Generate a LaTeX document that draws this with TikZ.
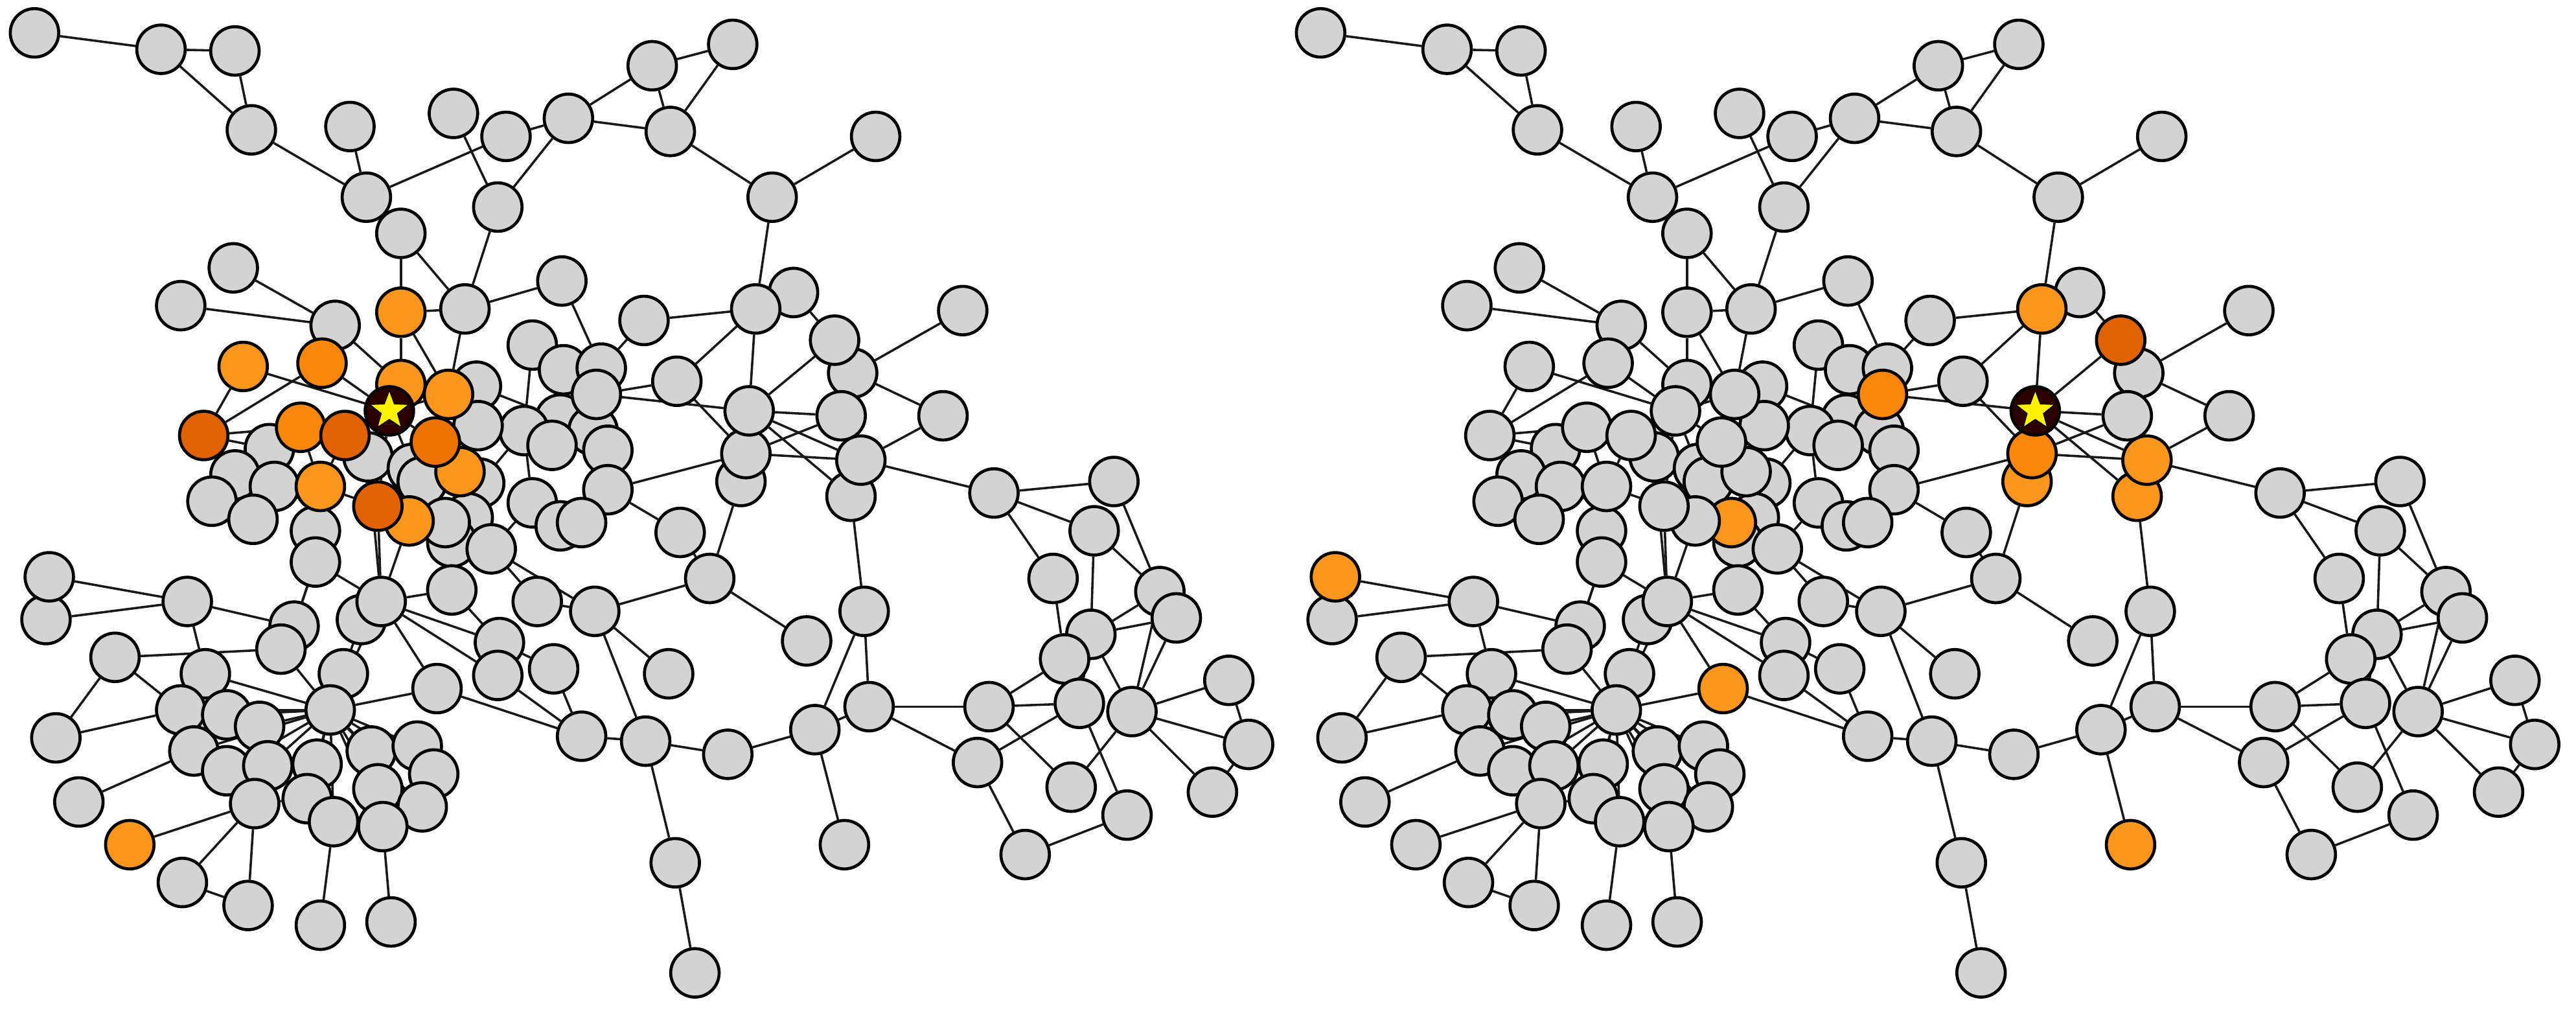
\documentclass[tikz,border=0pt]{standalone}
\usetikzlibrary{shapes.geometric}
\pgfdeclarelayer{bg}
\pgfsetlayers{bg,main}
\definecolor{ngray}{RGB}{211,211,211}
\definecolor{olight}{RGB}{250,150,28}
\definecolor{omed}{RGB}{250,135,10}
\definecolor{odark}{RGB}{225,98,0}
\definecolor{odarkb}{RGB}{238,114,0}
\definecolor{stn}{RGB}{45,0,0}
\definecolor{edgec}{RGB}{25,25,25}
\tikzset{
  nd/.style={circle, draw=black, line width=1.05pt, minimum size=0.59cm, inner sep=0pt},
  edge/.style={draw=edgec, line width=0.8pt},
  starmark/.style={star, star points=5, star point ratio=2.4, fill=yellow, draw=black, line width=0.3pt, minimum size=0.5cm, inner sep=0pt}
}
\newcommand\drawgraph{%
  % plain grey nodes
  \foreach \id/\x/\y in {a1/21/20, a2/98/30, a3/143/31, a4/153/79, a5/213/77, a6/276/69, a7/308/83, a8/346/72,
    a9/397/40, a10/446/27, a11/408/80, a12/533/83, a13/223/120, a14/303/126, a15/470/120,
    b1/244/142, b2/142/163, b3/110/186, b4/204/198, b6/283/188, b7/342/171, b8/392/195, b10/483/178,
    b11/586/189, b12/324/210, b13/343/225, b14/366/224, b15/412/232, b17/519/227, b18/574/253, b19/512/253,
    d1/290/235, d3/341/255, d4/361/262, d5/319/262, d6/291/259, d7/336/271, d17/370/274, d8/164/273,
    d9/224/278, d10/143/289, d28/167/296, d11/251/285, d12/257/293, d13/292/294, d14/324/306, d16/370/298,
    d27/341/320, d15/354/318, d18/129/305, d19/154/316, d20/192/323, d21/192/342, d24/285/315, d22/275/330,
    d23/299/334, e2/414/324, e3/432/352, e4/491/390, e5/362/372, e6/327/366, e7/275/359, e8/304/391,
    e9/303/411, e10/337/407, e11/407/410, e14/526/372,
    f1/605/300, f2/678/293, f3/666/323, f4/641/352, f5/706/360, f6/716/376, f7/664/386, f8/648/401,
    f9/748/414, f10/657/428, f11/689/433, f12/760/453, f13/738/482, f14/652/479, f15/686/496, f16/602/430,
    f17/595/464, f18/624/520, f19/529/430, f21/496/444, f22/443/459, f23/393/451, f24/354/448, f25/411/525,
    f26/423/592,
    g2/28/377, g3/114/366, g5/179/381, g6/171/395, g7/220/377, g8/232/366, g9/70/400, g10/125/410,
    g11/209/410, g13/34/449, g14/110/432, g15/138/435, g16/158/442, g17/201/432, g18/118/457, g19/138/469,
    g20/163/466, g21/193/465, g22/226/457, g23/254/454, g24/264/471, g25/230/480, g26/257/491, g29/187/486,
    g27/233/503, g28/203/500, g30/155/489, g31/48/488, g33/111/537, g34/151/551, g35/195/563, g36/238/561}
  {\node[nd, fill=ngray] (P\pn\id) at (\x,\y) {};}
  % nodes coloured in at least one panel (left colour / right colour)
  \foreach \id/\x/\y/\cl/\cr in {b9/460/188/ngray/olight, b16/508/207/ngray/odark, d2/363/240/ngray/omed,
    b21/518/302/ngray/olight, b20/524/280/ngray/olight, b24/451/293/ngray/olight, b23/454/276/ngray/omed,
    d25/271/318/ngray/olight, e12/266/419/ngray/olight, f20/514/514/ngray/olight, g1/30/351/ngray/olight,
    g32/79/514/olight/ngray, b5/244/190/olight/ngray, c1/148/223/olight/ngray, c2/196/221/omed/ngray,
    c6/124/265/odark/ngray, c7/183/260/omed/ngray, c8/210/265/odark/ngray, c10/280/287/olight/ngray,
    c9/265/269/odarkb/ngray, c11/195/296/olight/ngray, c13/249/317/olight/ngray, c12/230/308/odark/ngray,
    c3/244/234/olight/ngray, c5/273/240/olight/ngray, c4/237/250/stn/ngray, b22/456/250/ngray/stn}
  {\ifnum\pn=0 \def\cc{\cl}\else\def\cc{\cr}\fi
   \node[nd, fill=\cc] (P\pn\id) at (\x,\y) {};}
  % edges
  \begin{pgfonlayer}{bg}
  \foreach \u/\v in {a1/a2, a2/a3, a2/a4, a3/a4, a4/a13, a5/a13, a13/a7, a6/a14, a7/a8, a8/a9, a8/a14, a8/a11,
    a9/a11, a9/a10, a10/a11, a11/a15, a15/a12, a15/b9, a14/b6, a13/b1, b1/b5, b1/b6, b2/b4, b3/b4, b5/b6,
    b6/b7, b7/b14, b8/b14, b8/b9, b9/b15, b9/b22, b10/b16, b11/b17, b17/b18, b18/b20, b20/f1, b22/b16,
    b22/d2, b22/b19, b22/b20, b22/b21, b23/b20, b23/b19, b15/b23, b15/d2, b12/d5,
    c1/c4, c1/c6, c6/c2, c2/c4, b4/c3, b5/c3, b5/c5, b6/c5, c4/c5, c4/c8, c4/c9, c4/d9, c4/c12, c4/d11,
    c5/d1, d1/d3, c6/d8, c6/d10, c6/d19, c6/c7, c7/d8, c7/c8, c7/c11, c8/d9, c8/c11, c8/c12, c9/d11,
    c9/c10, c9/d6, c10/d12, c10/d13, c10/c13, c10/d24, c11/c12, c11/d20, c11/d19, c11/d28, c12/c13,
    c12/g8, c13/g8, d9/g8, d21/g8, d21/g5, d20/d21, d5/d14, d5/d13, d3/d7, d4/d17, d16/b23, d16/e2,
    d16/d17, d14/d15, d15/d27, d23/e6, d23/e5, d22/d24, d22/e7, d18/d10, d18/d19, d13/d24, d14/d23,
    d25/c13, d25/d24,
    e2/e3, e3/b24, e3/e4, e3/e5, e5/e11, e5/f23, e6/e5, e7/e8, e8/e10, g8/e7, g8/e8, g8/e9, g8/e12,
    g8/g17, g7/g17, g7/g8, e12/f24, e9/f24, e10/f24, f24/f23, f23/f22, f23/f25, f25/f26, f22/f21,
    f21/f19, f21/f20, f21/e14, e14/f19, e14/b21, f19/f16, f19/f17, f16/f10, f16/f8, f16/f14, f17/f10,
    f17/f18, f18/f15, f10/f15, f11/f14, f11/f9, f11/f12, f11/f13, f9/f12, f12/f13, f1/f2, f1/f3, f1/f4,
    f2/f5, f3/f5, f3/f7, f4/f8, f7/f5, f7/f6, f7/f11, f6/f11, f5/f11, f10/f7,
    g1/g3, g2/g3, g3/g5, g3/g10, g9/g6, g9/g13, g9/g14, g13/g14, g10/g17, g6/g17, g5/d21, g31/g18,
    g32/g30, g30/g33, g30/g34, g33/g34, g28/g35, g27/g36, g17/g15, g17/g16, g17/g19, g17/g20, g17/g21,
    g17/g22, g17/g25, g17/g29, g17/g28, g17/g24, g17/g26, g17/e12, g23/g24, g22/g25, g29/g30, g17/g14,
    g17/g18, g17/g27, g17/g23, g11/g17}
  {\draw[edge] (P\pn\u) -- (P\pn\v);}
  \end{pgfonlayer}
}
\begin{document}
\begin{tikzpicture}[x=0.02cm, y=-0.02cm]
\useasboundingbox (0,0) rectangle (1568,615);
\def\pn{0}
\drawgraph
\node[starmark] (S0) at (P0c4) {};
\begin{scope}[xshift=15.66cm]
\def\pn{1}
\drawgraph
\node[starmark] (S1) at (P1b22) {};
\end{scope}
\end{tikzpicture}
\end{document}
